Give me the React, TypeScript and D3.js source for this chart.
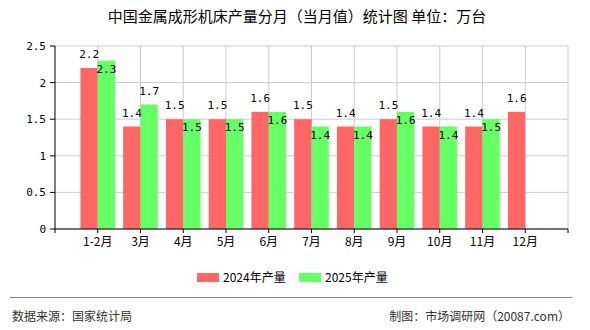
import React from 'react';
import * as d3 from 'd3';

const months = ['1-2月', '3月', '4月', '5月', '6月', '7月', '8月', '9月', '10月', '11月', '12月'];
const output2024 = [2.2, 1.4, 1.5, 1.5, 1.6, 1.5, 1.4, 1.5, 1.4, 1.4, 1.6];
const output2025: (number | null)[] = [2.3, 1.7, 1.5, 1.5, 1.6, 1.4, 1.4, 1.6, 1.4, 1.5, null];
const yTicks = [0, 0.5, 1, 1.5, 2, 2.5];
const series = [
  { name: '2024年产量', color: '#FF6666' },
  { name: '2025年产量', color: '#66FF66' },
];

const W = 590;
const H = 330;
const plot = { left: 55, right: 568, top: 46, bottom: 229 };
const cjk = '"Noto Sans CJK SC", "Noto Sans", sans-serif';
const mono = '"DejaVu Sans Mono", "Liberation Mono", monospace';

export default function App() {
  // one slot per month plus an empty slot on each side
  const x = d3.scaleLinear().domain([0, months.length + 1]).range([plot.left, plot.right]);
  const y = d3.scaleLinear().domain([0, 2.5]).range([plot.bottom, plot.top]);
  const step = x(1) - x(0);
  const barW = step * 0.405;
  const slots = d3.range(0, months.length + 2);

  return (
    <div style={{ position: 'fixed', left: 0, top: 0 }}>
      <svg width={W} height={H} style={{ display: 'block', background: '#fff' }}>
        <text x={297} y={22} textAnchor="middle" fontFamily={cjk} fontSize={15} fill="#000">
          中国金属成形机床产量分月（当月值）统计图 单位：万台
        </text>

        {/* grid */}
        {yTicks.map((t) => (
          <line key={'gy' + t} x1={plot.left} x2={plot.right} y1={y(t)} y2={y(t)} stroke="#cccccc" />
        ))}
        {slots.slice(1).map((s) => (
          <line key={'gx' + s} x1={x(s)} x2={x(s)} y1={plot.top} y2={plot.bottom} stroke="#cccccc" />
        ))}

        {/* bars */}
        {months.map((m, i) => {
          const cx = x(i + 1);
          const a = output2024[i];
          const b = output2025[i];
          return (
            <g key={m}>
              <rect x={cx - barW} y={y(a)} width={barW} height={y(0) - y(a)} fill={series[0].color} />
              {b != null && (
                <rect x={cx} y={y(b)} width={barW} height={y(0) - y(b)} fill={series[1].color} />
              )}
            </g>
          );
        })}

        {/* value labels: 2025 goes above its bar only when it clears the 2024 label and the plot top */}
        {months.map((m, i) => {
          const cx = x(i + 1);
          const a = output2024[i];
          const b = output2025[i];
          const above = b != null && y(a) - y(b) >= 14 && y(b) - 18 > plot.top;
          return (
            <g key={'l' + m} fontFamily={mono} fontSize={11} fill="#000" textAnchor="middle">
              <text x={cx - barW / 2} y={y(a) - 10}>{a.toFixed(1)}</text>
              {b != null && (
                <text x={cx + barW / 2} y={above ? y(b) - 10 : y(b) + 12}>{b.toFixed(1)}</text>
              )}
            </g>
          );
        })}

        {/* axes */}
        <line x1={plot.left} x2={plot.left} y1={plot.top} y2={plot.bottom} stroke="#000" />
        <line x1={plot.left} x2={plot.right} y1={plot.bottom} y2={plot.bottom} stroke="#000" />
        {yTicks.map((t) => (
          <g key={'ty' + t}>
            <line x1={plot.left - 5} x2={plot.left} y1={y(t)} y2={y(t)} stroke="#000" />
            <text x={plot.left - 9} y={y(t) + 4} textAnchor="end" fontFamily={mono} fontSize={11} fill="#000">
              {t}
            </text>
          </g>
        ))}
        {slots.map((s) => (
          <line key={'tx' + s} x1={x(s)} x2={x(s)} y1={plot.bottom} y2={plot.bottom + 4} stroke="#000" />
        ))}
        {months.map((m, i) => (
          <text key={'xl' + m} x={x(i + 1)} y={246} textAnchor="middle" fontFamily={cjk} fontSize={12} fill="#000">
            {m}
          </text>
        ))}

        {/* legend */}
        {series.map((s, i) => {
          const lx = 197 + i * 102;
          return (
            <g key={s.name}>
              <rect x={lx} y={273} width={22} height={9} fill={s.color} />
              <text x={lx + 26} y={282} fontFamily={cjk} fontSize={12} fill="#000">
                {s.name}
              </text>
            </g>
          );
        })}

        {/* footer */}
        <line x1={10} x2={572} y1={297.5} y2={297.5} stroke="#888888" />
        <text x={12} y={321} fontFamily={cjk} fontSize={12} fill="#333">
          数据来源：国家统计局
        </text>
        <text x={570} y={321} textAnchor="end" fontFamily={cjk} fontSize={12} fill="#333">
          制图：市场调研网（20087.com）
        </text>
      </svg>
    </div>
  );
}
